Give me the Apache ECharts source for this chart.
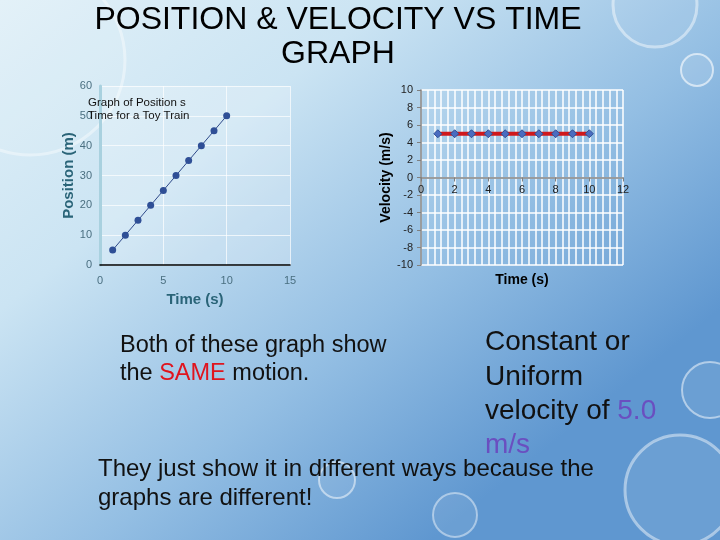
<!DOCTYPE html>
<html><head><meta charset="utf-8">
<script src="https://cdn.jsdelivr.net/npm/echarts@6/dist/echarts.min.js"></script>
<style>html,body{margin:0;padding:0;}#c{width:720px;height:540px;}</style>
</head><body><div id="c"></div>
<script>
const timeVals = [1, 2, 3, 4, 5, 6, 7, 8, 9, 10];
const positionVals = [5, 10, 15, 20, 25, 30, 35, 40, 45, 50];
const velocityVals = [5, 5, 5, 5, 5, 5, 5, 5, 5, 5];

const posData = timeVals.map((t, i) => [t, positionVals[i]]);
const velData = timeVals.map((t, i) => [t, velocityVals[i]]);
const F = '"Liberation Sans", Arial, sans-serif';

const chart = echarts.init(document.getElementById('c'));
chart.setOption({
  backgroundColor: {
    type: 'linear', x: 0, y: 0, x2: 0.6, y2: 1,
    colorStops: [
      {offset: 0, color: '#e2f1f8'},
      {offset: 0.35, color: '#cbe4f3'},
      {offset: 0.7, color: '#93bee3'},
      {offset: 1, color: '#5f97d0'}
    ]
  },
  graphic: [
    {type: 'circle', shape: {cx: 30, cy: 60, r: 95}, style: {fill: 'rgba(255,255,255,0.05)', stroke: 'rgba(255,255,255,0.4)', lineWidth: 3}, silent: true, z: -1},
    {type: 'circle', shape: {cx: 655, cy: 5, r: 42}, style: {fill: 'rgba(255,255,255,0.05)', stroke: 'rgba(255,255,255,0.45)', lineWidth: 3}, silent: true, z: -1},
    {type: 'circle', shape: {cx: 697, cy: 70, r: 16}, style: {fill: 'rgba(255,255,255,0.1)', stroke: 'rgba(255,255,255,0.6)', lineWidth: 2}, silent: true, z: -1},
    {type: 'circle', shape: {cx: 710, cy: 390, r: 28}, style: {fill: 'rgba(255,255,255,0.08)', stroke: 'rgba(255,255,255,0.5)', lineWidth: 2}, silent: true, z: -1},
    {type: 'circle', shape: {cx: 680, cy: 490, r: 55}, style: {fill: 'rgba(255,255,255,0.08)', stroke: 'rgba(255,255,255,0.45)', lineWidth: 3}, silent: true, z: -1},
    {type: 'circle', shape: {cx: 337, cy: 480, r: 18}, style: {fill: 'rgba(255,255,255,0.08)', stroke: 'rgba(255,255,255,0.5)', lineWidth: 2}, silent: true, z: -1},
    {type: 'circle', shape: {cx: 455, cy: 515, r: 22}, style: {fill: 'rgba(255,255,255,0.08)', stroke: 'rgba(255,255,255,0.45)', lineWidth: 2}, silent: true, z: -1},
    {type: 'text', x: 338, y: 3, style: {text: 'POSITION & VELOCITY VS TIME\nGRAPH', font: '32px ' + F, fill: '#000', align: 'center', lineHeight: 34}},
    {type: 'text', left: 120, top: 334, style: {text: 'Both of these graph show', font: '23.5px ' + F, fill: '#111'}},
    {type: 'text', left: 120, top: 362, style: {rich: {a: {font: '23.5px ' + F, fill: '#111'}, r: {font: '23.5px ' + F, fill: '#e0141e'}}, text: '{a|the }{r|SAME}{a| motion.}'}},
    {type: 'text', left: 485, top: 325, style: {text: 'Constant or\nUniform', font: '28px ' + F, fill: '#111', lineHeight: 35}},
    {type: 'text', left: 485, top: 397, style: {rich: {a: {font: '28px ' + F, fill: '#111'}, p: {font: '28px ' + F, fill: '#6a4fc0'}}, text: '{a|velocity of }{p|5.0}'}},
    {type: 'text', left: 485, top: 431, style: {text: 'm/s', font: '28px ' + F, fill: '#6a4fc0'}},
    {type: 'text', left: 98, top: 455, style: {text: 'They just show it in different ways because the\ngraphs are different!', font: '24px ' + F, fill: '#111', lineHeight: 29}},
    {type: 'text', left: 88, top: 96, z: 10, style: {text: 'Graph of Position s\nTime for a Toy Train', font: '11.5px ' + F, fill: '#111', lineHeight: 13}}
  ],
  grid: [
    {left: 100, width: 190, top: 86, height: 179, show: true, backgroundColor: 'rgba(255,255,255,0.22)', borderWidth: 0},
    {left: 421, width: 202, top: 90, height: 175}
  ],
  xAxis: [
    {gridIndex: 0, type: 'value', min: 0, max: 15, interval: 5,
     axisLine: {lineStyle: {color: '#000', width: 1.5}}, axisTick: {show: false},
     axisLabel: {color: '#4a6f80', fontSize: 11, fontFamily: F, margin: 10},
     splitLine: {lineStyle: {color: 'rgba(255,255,255,0.7)'}},
     name: 'Time (s)', nameLocation: 'middle', nameGap: 27,
     nameTextStyle: {color: '#2a6478', fontSize: 15, fontWeight: 'bold', fontFamily: F}},
    {gridIndex: 1, type: 'value', min: 0, max: 12, interval: 2,
     position: 'bottom', offset: -87.5,
     axisLine: {onZero: false, lineStyle: {color: '#808080', width: 1.5}},
     axisTick: {show: true, length: 4, lineStyle: {color: '#808080'}},
     axisLabel: {color: '#222', fontSize: 11, fontFamily: F, margin: 7},
     splitLine: {lineStyle: {color: '#fff', width: 1.5}},
     minorTick: {show: false, splitNumber: 5},
     minorSplitLine: {show: true, lineStyle: {color: '#fff', width: 1.5}},
     name: 'Time (s)', nameLocation: 'middle', nameGap: 96,
     nameTextStyle: {color: '#000', fontSize: 14, fontWeight: 'bold', fontFamily: F}}
  ],
  yAxis: [
    {gridIndex: 0, type: 'value', min: 0, max: 60, interval: 10,
     axisLine: {show: true, lineStyle: {color: '#a9d1df', width: 3}}, axisTick: {show: false},
     axisLabel: {color: '#4a6f80', fontSize: 11, fontFamily: F, margin: 8},
     splitLine: {lineStyle: {color: 'rgba(255,255,255,0.7)'}},
     name: 'Position (m)', nameLocation: 'middle', nameGap: 24,
     nameTextStyle: {color: '#2a6478', fontSize: 15, fontWeight: 'bold', fontFamily: F}},
    {gridIndex: 1, type: 'value', min: -10, max: 10, interval: 2,
     axisLine: {show: true, lineStyle: {color: '#808080', width: 1.5}},
     axisTick: {show: true, length: 4, lineStyle: {color: '#808080'}},
     axisLabel: {color: '#222', fontSize: 11, fontFamily: F, margin: 8},
     splitLine: {lineStyle: {color: '#fff', width: 1.5}},
     name: 'Velocity (m/s)', nameLocation: 'middle', nameGap: 16,
     nameTextStyle: {color: '#000', fontSize: 14, fontWeight: 'bold', fontFamily: F}}
  ],
  series: [
    {type: 'line', xAxisIndex: 0, yAxisIndex: 0, data: posData,
     symbol: 'circle', symbolSize: 7,
     lineStyle: {color: '#2f4a8a', width: 1},
     itemStyle: {color: '#2f4f96'}},
    {type: 'line', xAxisIndex: 1, yAxisIndex: 1, data: velData,
     symbol: 'diamond', symbolSize: 8,
     lineStyle: {color: '#d0181c', width: 4},
     itemStyle: {color: '#4a6cc0', borderColor: '#2f4f96', borderWidth: 1}}
  ]
});
</script></body></html>
